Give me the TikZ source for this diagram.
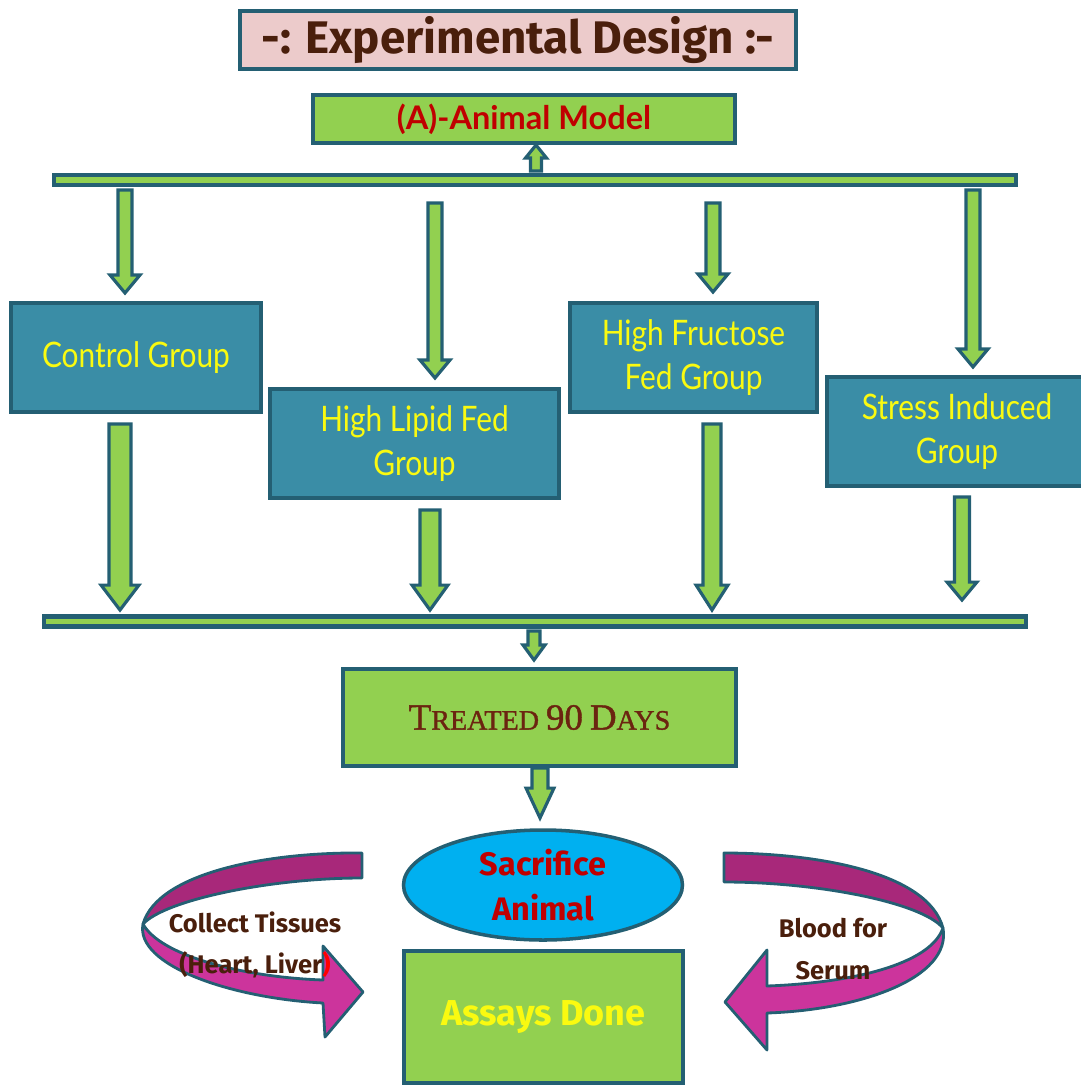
\documentclass[tikz,border=0pt]{standalone}
\usepackage{fontspec}
\usetikzlibrary{calc,shapes.geometric}
\newfontfamily\ttlfont{Fira Sans}
\newfontfamily\grpfont[FakeStretch=0.85]{Lato}
\newfontfamily\lbfont{Lato}
\newfontfamily\trfont[FakeBold=1.2]{Liberation Serif}
\definecolor{tealb}{HTML}{245F73}
\definecolor{lgreen}{HTML}{92D050}
\definecolor{grpfill}{HTML}{3A8DA6}
\definecolor{ylw}{HTML}{FAFA10}
\definecolor{brownt}{HTML}{4A1F0C}
\definecolor{brownr}{HTML}{6B2410}
\definecolor{redt}{HTML}{C00000}
\definecolor{pinkt}{HTML}{ECCBCB}
\definecolor{cyanf}{HTML}{00B0F0}
\definecolor{magA}{HTML}{A8287A}
\definecolor{magB}{HTML}{CC349C}
\newcommand\pxu{0.02cm}
\newcommand\blockarrow[5]{%
  \draw[blockarr] let \p1=(#1), \p2=(#2), \n1={ifthenelse(\y2>\y1,1,-1)},
    \n2={\y2-\n1*#5*0.5669pt}, \n3={#3*0.5669pt}, \n4={#4*0.5669pt} in
  ({\x1-\n3},\y1) -- ({\x1-\n3},\n2) -- ({\x1-\n4},\n2)
  -- (\x2,\y2) -- ({\x1+\n4},\n2) -- ({\x1+\n3},\n2)
  -- ({\x1+\n3},\y1) -- cycle;}
\newcommand\bigc[1]{{\fontsize{21}{22}\selectfont #1}}
\tikzset{
  base/.style={draw=tealb, line width=2pt, inner sep=0pt},
  grp/.style={base, fill=grpfill, text=ylw, minimum height=109*\pxu, align=center,
    font=\grpfont\fontsize{20}{25.5}\selectfont},
  grn/.style={base, fill=lgreen},
  bar/.style={draw=tealb, line width=2.6pt, fill=lgreen, minimum height=10*\pxu, inner sep=0pt},
  blockarr/.style={draw=tealb, line width=1.8pt, fill=lgreen, line join=miter},
  curv/.style={draw=tealb, line width=1.6pt, line join=round},
  lbl/.style={text=brownt, align=center, inner sep=0pt,
    font=\ttlfont\bfseries\fontsize{14.5}{23.8}\selectfont}
}
\begin{document}
\begin{tikzpicture}[x=\pxu, y=-\pxu]
\useasboundingbox (0,0) rectangle (1080,1086);
% nodes
\node[base, line width=2.3pt, fill=pinkt, minimum width=556*\pxu, minimum height=58*\pxu, text=brownt,
  font=\ttlfont\bfseries\fontsize{26}{30}\selectfont] (title) at (518,40) {-: Experimental Design :-};
\node[grn, minimum width=422*\pxu, minimum height=48*\pxu, text=redt,
  font=\lbfont\bfseries\fontsize{18.5}{22}\selectfont] (model) at (524,119) {(A)-Animal Model};
\node[bar, minimum width=962*\pxu] (topbar) at (535,180) {};
\node[grp, minimum width=250*\pxu] (ctrl) at (136,357.5) {Control Group};
\node[grp, minimum width=289*\pxu] (lipid) at (414.5,443.5) {High Lipid Fed\\Group};
\node[grp, minimum width=247*\pxu] (fruct) at (693.5,357.5) {High Fructose\\Fed Group};
\node[grp, minimum width=260*\pxu] (stress) at (957,431.5) {Stress Induced\\Group};
\node[bar, minimum width=982*\pxu] (botbar) at (535,621.5) {};
\node[grn, minimum width=393*\pxu, minimum height=97*\pxu, text=brownr,
  font=\trfont\fontsize{16}{22}\selectfont] (treat) at (539.5,717.5)
  {\bigc{T}REATED \bigc{90} \bigc{D}AYS};
\node[ellipse, draw=tealb, line width=2pt, fill=cyanf, minimum width=279*\pxu,
  minimum height=110*\pxu, inner sep=0pt, align=center, text=redt,
  font=\ttlfont\bfseries\fontsize{18.5}{25.5}\selectfont] (sac) at (543,885) {Sacrifice\\Animal};
\node[grn, minimum width=279*\pxu, minimum height=132*\pxu, text=ylw,
  font=\ttlfont\bfseries\fontsize{20.5}{22}\selectfont] (assay) at (543.5,1017) {Assays Done};
% connector end points
\coordinate (up0) at (536,171);   \coordinate (up1) at (536,145);
\coordinate (t1) at (125,190);    \coordinate (t1e) at (125,293);
\coordinate (t2) at (435,203);    \coordinate (t2e) at (435,378);
\coordinate (t3) at (713,203);    \coordinate (t3e) at (713,292);
\coordinate (t4) at (973,190);    \coordinate (t4e) at (973,367);
\coordinate (b1) at (120,424);    \coordinate (b1e) at (120,610);
\coordinate (b2) at (430,510);    \coordinate (b2e) at (430,610);
\coordinate (b3) at (712,424);    \coordinate (b3e) at (712,610);
\coordinate (b4) at (962,497);    \coordinate (b4e) at (962,600);
\coordinate (d0) at (534,631);    \coordinate (d1) at (534,660);
\coordinate (tr0) at (540,768);   \coordinate (tr1) at (540,818);
% block arrows
\blockarrow{up0}{up1}{5.5}{10.5}{13}
\blockarrow{t1}{t1e}{7}{15}{18}
\blockarrow{t2}{t2e}{7}{15}{18}
\blockarrow{t3}{t3e}{7}{15}{18}
\blockarrow{t4}{t4e}{7}{15}{18}
\blockarrow{b1}{b1e}{11}{19}{25}
\blockarrow{b2}{b2e}{10}{18}{25}
\blockarrow{b3}{b3e}{9}{16}{25}
\blockarrow{b4}{b4e}{7.5}{15}{18}
\blockarrow{d0}{d1}{6}{11}{15}
\blockarrow{tr0}{tr1}{8}{14}{30}
% curved arrows
\draw[curv, fill=magA] (362,853) .. controls (270,852) and (158,872) .. (143,924)
  .. controls (165,900) and (270,878) .. (362,878) -- cycle;
\draw[curv, fill=magB] (143,924) .. controls (135,965) and (230,998) .. (323,1003)
  -- (325,1037) -- (363,992) -- (323,946) -- (323,980)
  .. controls (240,977) and (160,955) .. (143,924) -- cycle;
\draw[curv, fill=magA] (724,853) .. controls (816,853) and (928,872) .. (943,928)
  .. controls (921,902) and (816,882) .. (724,882) -- cycle;
\draw[curv, fill=magB] (943,928) .. controls (952,978) and (860,1010) .. (767,1013)
  -- (767,1050) -- (725,1002) -- (767,950) -- (767,986)
  .. controls (850,983) and (930,965) .. (943,928) -- cycle;
% labels
\node[lbl] (collect) at (255,945) {Collect Tissues\\(Heart, Liver\textcolor{red}{)}};
\node[lbl] (blood) at (833,949) {Blood for\\Serum};
\end{tikzpicture}
\end{document}
